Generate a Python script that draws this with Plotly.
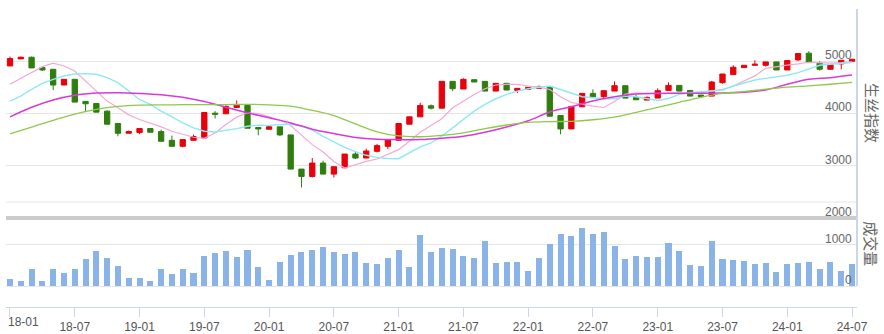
import plotly.graph_objects as go

months = [f"{18 + i // 12:02d}-{i % 12 + 1:02d}" for i in range(79)]
idx = list(range(79))

opens = [4910, 5045, 5077, 4878, 4846, 4545, 4654, 4231, 4192, 4045,
         3808, 3622, 3635, 3712, 3654, 3487, 3372, 3487, 3532, 4006,
         3994, 4115, 4154, 3731, 3699, 3744, 3590, 2936, 2795, 3051,
         2840, 2962, 3224, 3147, 3276, 3372, 3487, 3795, 3936, 4147,
         4102, 4615, 4468, 4647, 4615, 4429, 4577, 4442, 4462, 4481,
         4500, 3962, 3705, 4128, 4385, 4321, 4429, 4532, 4308, 4256,
         4295, 4442, 4538, 4442, 4353, 4333, 4590, 4744, 4878, 4923,
         4923, 4987, 4833, 5026, 5154, 4962, 4846, 4949, 5000]
closes = [5051, 5077, 4872, 4833, 4545, 4654, 4218, 4186, 4026, 3795,
          3622, 3654, 3712, 3641, 3468, 3372, 3500, 3558, 4019, 3987,
          4135, 4160, 3718, 3705, 3744, 3590, 2936, 2795, 3051, 2840,
          2981, 3224, 3147, 3282, 3385, 3500, 3808, 3936, 4154, 4102,
          4615, 4474, 4654, 4603, 4429, 4577, 4449, 4481, 4500, 4506,
          3949, 3705, 4135, 4385, 4321, 4436, 4532, 4295, 4263, 4308,
          4436, 4538, 4429, 4333, 4327, 4603, 4756, 4885, 4923, 4942,
          4987, 4833, 5013, 5147, 4974, 4846, 4936, 5019, 5038]
highs = [5090, 5090, 5090, 4878, 4846, 4654, 4654, 4231, 4192, 4058,
         3808, 3673, 3712, 3712, 3692, 3577, 3500, 3596, 4019, 4045,
         4160, 4250, 4154, 3731, 3776, 3744, 3590, 2936, 3147, 3096,
         2981, 3224, 3263, 3327, 3417, 3500, 3808, 3936, 4205, 4173,
         4615, 4615, 4673, 4647, 4615, 4577, 4577, 4481, 4500, 4538,
         4500, 3962, 4135, 4385, 4462, 4436, 4615, 4532, 4353, 4327,
         4481, 4596, 4538, 4442, 4353, 4622, 4756, 4923, 4923, 5019,
         4987, 4987, 5013, 5147, 5192, 5000, 4936, 5019, 5038]
lows = [4910, 5045, 4872, 4814, 4449, 4545, 4218, 4026, 4026, 3795,
        3564, 3622, 3603, 3641, 3468, 3372, 3353, 3487, 3532, 3904,
        3994, 4115, 3718, 3583, 3699, 3570, 2936, 2583, 2776, 2840,
        2776, 2962, 3128, 3147, 3256, 3321, 3487, 3795, 3936, 4077,
        4102, 4429, 4468, 4603, 4429, 4429, 4449, 4391, 4462, 4481,
        3949, 3603, 3705, 4128, 4321, 4282, 4429, 4295, 4263, 4256,
        4295, 4442, 4429, 4333, 4315, 4333, 4571, 4744, 4878, 4923,
        4897, 4833, 4833, 5006, 4974, 4821, 4846, 4846, 5000]
volumes = [171, 122, 415, 122, 415, 317, 415, 659, 854, 683,
           488, 195, 195, 122, 415, 293, 415, 317, 732, 805,
           854, 707, 878, 463, 146, 585, 756, 829, 878, 951,
           829, 780, 829, 561, 537, 683, 878, 463, 1244, 829,
           927, 902, 732, 683, 1098, 561, 585, 585, 366, 683,
           1024, 1268, 1220, 1415, 1268, 1317, 976, 659, 732, 707,
           707, 1049, 854, 512, 488, 1098, 659, 634, 610, 537,
           561, 341, 537, 561, 585, 415, 585, 366, 537]

ma5 = [4558, 4667, 4782, 4897, 4962, 4910, 4814, 4622, 4410, 4237,
       4109, 3974, 3885, 3821, 3744, 3660, 3596, 3545, 3526, 3628,
       3788, 3930, 4013, 4000, 3936, 3870, 3770, 3590, 3404, 3263,
       3083, 2955, 3019, 3083, 3128, 3212, 3308, 3468, 3640, 3770,
       3900, 4109, 4237, 4365, 4474, 4545, 4558, 4558, 4526, 4506,
       4460, 4320, 4210, 4170, 4140, 4115, 4230, 4370, 4390, 4385,
       4380, 4385, 4390, 4385, 4400, 4430, 4460, 4525, 4620, 4720,
       4865, 4900, 4925, 4950, 4981, 4975, 4965, 4975, 4990]
ma10 = [4237, 4333, 4462, 4577, 4654, 4718, 4756, 4763, 4750, 4686,
        4590, 4429, 4269, 4173, 4045, 3936, 3821, 3724, 3660, 3645,
        3673, 3710, 3756, 3776, 3772, 3790, 3800, 3760, 3680, 3560,
        3450, 3350, 3270, 3200, 3160, 3140, 3135, 3244, 3360, 3436,
        3564, 3724, 3885, 4045, 4173, 4282, 4365, 4429, 4474, 4506,
        4526, 4460, 4397, 4321, 4301, 4282, 4282, 4333, 4321, 4282,
        4250, 4288, 4365, 4397, 4417, 4430, 4449, 4526, 4590, 4641,
        4673, 4705, 4731, 4782, 4859, 4923, 4942, 4962, 4974]
ma_idx = list(range(0, 79, 2))
ma20 = [3936, 4120, 4260, 4350, 4390, 4397, 4385, 4360, 4310, 4230,
        4120, 4013, 3917, 3820, 3700, 3615, 3540, 3505, 3500, 3500,
        3525, 3564, 3640, 3740, 3860, 4030, 4130, 4240, 4320, 4375,
        4385, 4387, 4388, 4390, 4405, 4450, 4560, 4654, 4686, 4735]
ma30 = [3610, 3740, 3870, 3990, 4080, 4135, 4160, 4165, 4168, 4170,
        4170, 4175, 4165, 4141, 4060, 3960, 3800, 3650, 3570, 3555,
        3580, 3630, 3710, 3780, 3830, 3846, 3850, 3880, 3930, 4020,
        4115, 4215, 4310, 4385, 4420, 4465, 4505, 4530, 4560, 4595]

price_ticks = [2000, 3000, 4000, 5000]
volume_ticks = [0, 1000]
tick_pos = list(range(0, 79, 6))
tick_txt = [months[i] if i > 0 else "" for i in tick_pos]

RED = "#e8000b"
GREEN = "#2f7d0f"
LABEL = "#666666"
xr = [-0.37, 78.46]

fig = go.Figure()
fig.add_trace(go.Scatter(x=idx, y=ma5, mode="lines", line=dict(color="#f3a9d6", width=1.2), xaxis="x", yaxis="y"))
fig.add_trace(go.Scatter(x=idx, y=ma10, mode="lines", line=dict(color="#8de9f3", width=1.4), xaxis="x", yaxis="y"))
fig.add_trace(go.Scatter(x=ma_idx, y=ma20, mode="lines", line=dict(color="#d83ad8", width=1.5, shape="spline"), xaxis="x", yaxis="y"))
fig.add_trace(go.Scatter(x=ma_idx, y=ma30, mode="lines", line=dict(color="#8ccb4a", width=1.3, shape="spline"), xaxis="x", yaxis="y"))
fig.add_trace(go.Candlestick(
    x=idx, open=opens, high=highs, low=lows, close=closes,
    increasing=dict(line=dict(color=RED, width=1), fillcolor=RED),
    decreasing=dict(line=dict(color=GREEN, width=1), fillcolor=GREEN),
    whiskerwidth=0, xaxis="x", yaxis="y"))
fig.add_trace(go.Bar(x=idx, y=volumes, width=0.56, marker=dict(color="#8ab4e8", line=dict(width=0)),
                     xaxis="x2", yaxis="y2"))

font_family = "Liberation Sans, Noto Sans CJK SC, sans-serif"
fig.update_layout(
    width=884, height=334,
    margin=dict(l=6, r=27, t=9, b=27, autoexpand=False),
    paper_bgcolor="white", plot_bgcolor="white",
    showlegend=False,
    font=dict(family=font_family, size=12, color=LABEL),
    xaxis=dict(domain=[0, 1], range=xr, anchor="y", showticklabels=False, showgrid=False,
               zeroline=False, showline=False, rangeslider=dict(visible=False), fixedrange=True),
    yaxis=dict(domain=[0.2987, 1], range=[2000, 6000], side="right",
               tickvals=price_ticks + [6000], showticklabels=False,
               gridcolor="#e6e6e6", gridwidth=1, zeroline=False, showline=False),
    xaxis2=dict(domain=[0, 1], range=xr, anchor="y2", tickvals=tick_pos, ticktext=tick_txt,
                showgrid=False, zeroline=False, showline=True, linecolor="#ccd6eb", linewidth=1,
                ticks="outside", ticklen=9, tickcolor="#ccd6eb", tickwidth=1,
                ticklabeloverflow="allow",
                tickfont=dict(size=12, color="#555555")),
    yaxis2=dict(domain=[0, 0.3054], range=[-512, 1707], side="right",
                tickvals=volume_ticks, showticklabels=False,
                gridcolor="#e6e6e6", gridwidth=1, zeroline=False, showline=False),
    bargap=0,
)

# extra grid line, separator bar and right border
fig.add_shape(type="line", xref="paper", yref="paper", x0=0, x1=1, y0=0.3523, y1=0.3523,
              line=dict(color="#e6e6e6", width=1), layer="below")
fig.add_shape(type="rect", xref="paper", yref="paper", x0=0, x1=1, y0=0.292, y1=0.3054,
              fillcolor="#cccccc", line=dict(width=0), layer="above")
fig.add_shape(type="line", xref="paper", yref="paper", x0=1, x1=1, y0=0.0705, y1=1,
              line=dict(color="#ccd6eb", width=2), layer="above")

# axis labels drawn just above their grid lines
for v in price_ticks:
    fig.add_annotation(text=str(v), xref="paper", yref="y", x=1, y=v, xanchor="right",
                       yanchor="middle", xshift=-3, yshift=6, showarrow=False,
                       font=dict(size=12, color=LABEL))
for v in volume_ticks:
    fig.add_annotation(text=str(v), xref="paper", yref="y2", x=1, y=v, xanchor="right",
                       yanchor="middle", xshift=-3, yshift=6, showarrow=False,
                       font=dict(size=12, color=LABEL))

fig.add_annotation(text="生丝指数", xref="paper", yref="paper", x=1.0188, y=0.651, textangle=90,
                   xanchor="center", yanchor="middle",
                   showarrow=False, font=dict(size=15, color=LABEL, family="Noto Sans CJK SC"))
fig.add_annotation(text="成交量", xref="paper", yref="paper", x=1.0176, y=0.211, textangle=90,
                   xanchor="center", yanchor="middle",
                   showarrow=False, font=dict(size=15, color=LABEL, family="Noto Sans CJK SC"))
fig.add_annotation(text=months[0], xref="x2", yref="paper", x=0, y=-0.0503, xanchor="left",
                   yanchor="middle", xshift=-4, showarrow=False, font=dict(size=12, color="#555555"))

fig.write_html("out.html")
